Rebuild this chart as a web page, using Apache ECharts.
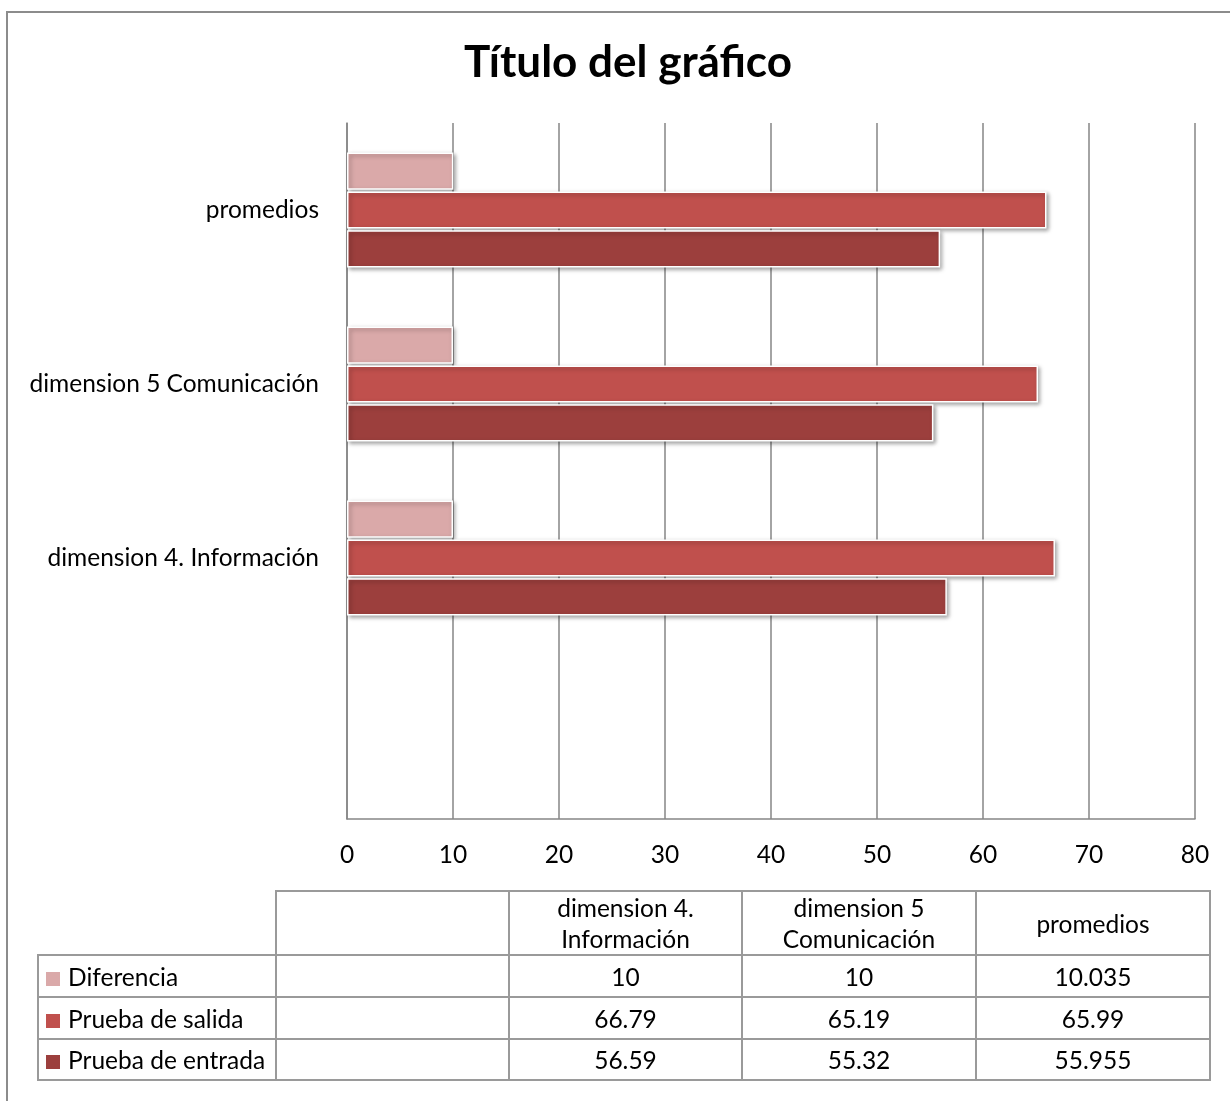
<!DOCTYPE html>
<html>
<head>
<meta charset="utf-8">
<script src="https://cdn.jsdelivr.net/npm/echarts@6/dist/echarts.min.js"></script>
<style>
  html, body { margin: 0; padding: 0; background: #fff; }
  #wrap { position: relative; width: 1230px; height: 1101px; overflow: hidden; }
  #frame {
    position: absolute; left: 6px; top: 11px; width: 1300px; height: 1200px;
    border-left: 2px solid #8c8c8c; border-top: 2px solid #8c8c8c;
  }
  #chart { position: absolute; left: 0; top: 0; width: 1230px; height: 1101px; }
  #dataTable {
    position: absolute; left: 37px; top: 890px;
    border-collapse: collapse; table-layout: fixed;
    font-family: Lato, "Noto Sans", sans-serif; font-size: 24.5px; color: #000;
  }
  #dataTable td { border: 2px solid #9a9a9a; padding: 0; text-align: center; line-height: 31px; }
  #dataTable td.blank { border-top: none; border-left: none; }
  #dataTable td.name { text-align: left; padding-left: 7px; white-space: nowrap; }
  #dataTable .sw { display: inline-block; width: 14px; height: 14px; margin-right: 8px; vertical-align: 0px; }
</style>
</head>
<body>
<div id="wrap">
  <div id="frame"></div>
  <div id="chart"></div>
  <table id="dataTable"></table>
</div>
<script>
  // categories bottom to top (first one is empty, as in the original sheet)
  const categories = ["", "dimension 4. Información", "dimension 5 Comunicación", "promedios"];
  const tableHeaders = ["", "dimension 4.<br>Información", "dimension 5<br>Comunicación", "promedios"];
  const seriesNames = ["Diferencia", "Prueba de salida", "Prueba de entrada"];
  const diferencia = [null, 10, 10, 10.035];
  const pruebaSalida = [null, 66.79, 65.19, 65.99];
  const pruebaEntrada = [null, 56.59, 55.32, 55.955];
  const colors = ["#DAA9A9", "#C0504D", "#9C3F3D"];
  const xTicks = [0, 10, 20, 30, 40, 50, 60, 70, 80];

  const allData = [diferencia, pruebaSalida, pruebaEntrada];

  const chart = echarts.init(document.getElementById("chart"));

  const barSeries = seriesNames.map((name, i) => ({
    name: name,
    type: "bar",
    data: allData[i],
    barGap: "5%",
    barCategoryGap: "34%",
    itemStyle: {
      color: colors[i],
      borderColor: "#ffffff",
      borderWidth: 1.5,
      shadowBlur: 4,
      shadowOffsetX: 2,
      shadowOffsetY: 2,
      shadowColor: "rgba(0,0,0,0.35)",
    },
    silent: true,
  }));

  const option = {
    animation: false,
    textStyle: { fontFamily: "Lato, 'Noto Sans', sans-serif" },
    title: {
      text: "Título del gráfico",
      left: 459,
      top: 36,
      textStyle: { fontSize: 44, fontWeight: "bold", color: "#000", fontFamily: "Lato, 'Noto Sans', sans-serif" },
    },
    grid: { left: 347, right: 35, top: 123, bottom: 282 },
    xAxis: {
      type: "value",
      min: xTicks[0],
      max: xTicks[xTicks.length - 1],
      interval: 10,
      axisLine: { show: true, lineStyle: { color: "#868686", width: 1.5 } },
      axisTick: { show: false },
      axisLabel: { fontSize: 24.5, color: "#000", margin: 24 },
      splitLine: { show: true, lineStyle: { color: "#868686", width: 1.5 } },
    },
    yAxis: {
      type: "category",
      data: categories,
      axisLine: { show: true, lineStyle: { color: "#868686", width: 1.5 } },
      axisTick: { show: false },
      axisLabel: { fontSize: 24.5, color: "#000", margin: 28 },
      splitLine: { show: false },
    },
    series: barSeries,
  };
  chart.setOption(option);

  // data table under the chart, built from the same arrays
  const table = document.getElementById("dataTable");
  const colW = [238, 233, 233, 234, 234];
  let html = "<colgroup>" + colW.map(w => '<col style="width:' + w + 'px">').join("") + "</colgroup>";
  html += '<tr style="height:63px"><td class="blank"></td>' +
    tableHeaders.map(h => "<td>" + h + "</td>").join("") + "</tr>";
  const rowH = [42, 42, 41];
  seriesNames.forEach((name, i) => {
    html += '<tr style="height:' + rowH[i] + 'px"><td class="name"><span class="sw" style="background:' + colors[i] + '"></span>' + name + "</td>";
    allData[i].forEach(v => { html += "<td>" + (v === null ? "" : v) + "</td>"; });
    html += "</tr>";
  });
  table.innerHTML = html;
</script>
</body>
</html>
